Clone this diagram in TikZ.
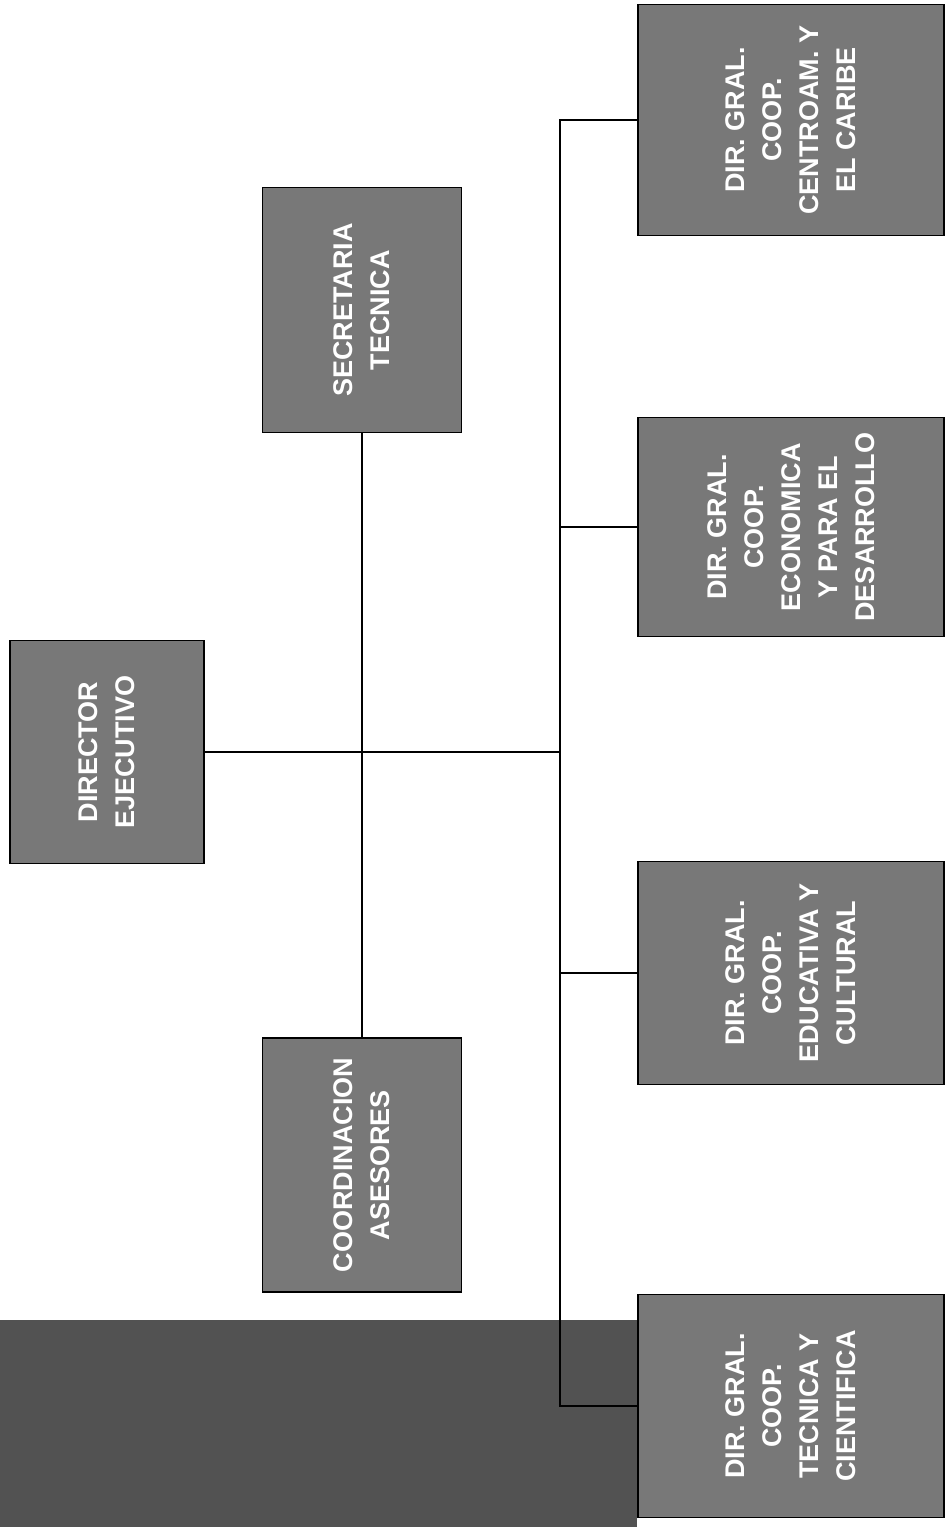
\documentclass[tikz,border=0pt]{standalone}
\usepackage{fontspec}
\setmainfont{Liberation Sans}
\usetikzlibrary{calc}
\definecolor{cbox}{gray}{0.47}
\definecolor{cband}{gray}{0.32}

\begin{document}
\begin{tikzpicture}[x=1pt,y=-1pt,
  unit/.style={draw=black,line width=1.6pt,fill=cbox,text=white,rotate=90,
    align=center,inner sep=0pt,font=\fontsize{27}{37}\selectfont\bfseries},
  link/.style={black,line width=1.1pt}]
  \useasboundingbox (0,0) rectangle (947,1527);
  % dark band of the scan, lower left
  \fill[cband] (0,1320) rectangle (637,1527);
  % left column: director and staff units (rotated: .south = right, .west = bottom)
  \node[unit,minimum width=223,minimum height=194] (dir) at (107,752) {DIRECTOR\\EJECUTIVO};
  \node[unit,minimum width=245,minimum height=199] (sec) at (362,310) {SECRETARIA\\TECNICA};
  \node[unit,minimum width=254,minimum height=199] (coor) at (362,1165) {COORDINACION\\ASESORES};
  % right column: general directions (.north = left edge)
  \node[unit,minimum width=231,minimum height=306] (dcam) at (791,120) {DIR. GRAL.\\COOP.\\CENTROAM. Y\\EL CARIBE};
  \node[unit,minimum width=219,minimum height=306] (deco) at (791,527) {DIR. GRAL.\\COOP.\\ECONOMICA\\Y PARA EL\\DESARROLLO};
  \node[unit,minimum width=223,minimum height=306] (dedu) at (791,973) {DIR. GRAL.\\COOP.\\EDUCATIVA Y\\CULTURAL};
  \node[unit,minimum width=223,minimum height=306] (dtec) at (791,1406) {DIR. GRAL.\\COOP.\\TECNICA Y\\CIENTIFICA};
  % bus line
  \coordinate (bus) at (560,0);
  \draw[link] (dcam.north) -- (dcam.north -| bus) -- (dtec.north -| bus) -- (dtec.north);
  \foreach \n in {deco,dedu}
    \draw[link] (\n.north) -- (\n.north -| bus);
  \draw[link] (dir.south) -- (dir.south -| bus);
  % staff line
  \draw[link] (sec.west) -- (coor.east);
\end{tikzpicture}
\end{document}
